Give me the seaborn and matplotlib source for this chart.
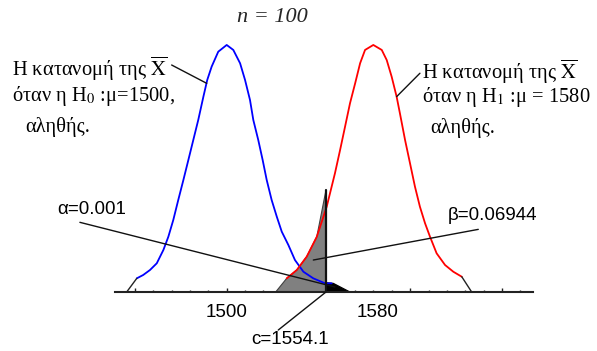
import numpy as np
import matplotlib
matplotlib.use("Agg")
import matplotlib.pyplot as plt
from matplotlib.ticker import FixedLocator
import seaborn as sns

# ---- data (x in the units of the X axis, y = density x 1000) ----
blue_x = [1451.0, 1454.5, 1458.2, 1461.9, 1465.5, 1468.2, 1470.9, 1473.6, 1476.4, 1479.1,
          1481.8, 1484.5, 1487.3, 1489.4, 1491.8, 1495.4, 1500.0, 1503.6, 1507.3, 1510.0,
          1512.7, 1514.5, 1517.2, 1519.6, 1521.8, 1524.5, 1527.3, 1530.0, 1533.6, 1537.2,
          1541.8, 1547.2, 1553.6, 1557.2]
blue_y = [1.26, 1.57, 2.03, 2.65, 3.88, 5.10, 6.65, 8.49, 10.34, 12.18,
          14.03, 15.88, 18.03, 19.57, 20.80, 22.18, 22.80, 22.34, 21.11, 19.57,
          17.72, 15.88, 14.03, 12.18, 10.34, 8.49, 6.95, 5.57, 4.34, 2.95,
          1.87, 1.26, 0.80, 0.80]

red_x = [1532.7, 1538.2, 1543.6, 1549.1, 1554.5, 1556.3, 1559.0, 1561.8, 1564.5, 1567.2,
         1570.0, 1572.7, 1575.4, 1579.9, 1584.5, 1587.2, 1589.9, 1592.6, 1594.4, 1597.2,
         1599.9, 1602.6, 1605.3, 1608.1, 1610.8, 1614.4, 1619.0, 1623.5, 1628.1]
red_y = [1.26, 2.03, 3.26, 5.10, 7.87, 9.11, 10.96, 13.11, 15.26, 17.42,
         19.26, 21.11, 22.34, 22.80, 22.34, 21.41, 19.87, 18.03, 16.49, 14.03,
         11.88, 9.72, 7.87, 6.34, 5.10, 3.57, 2.49, 1.87, 1.41]

blue_tail_x = [1445.5, 1451.0]
blue_tail_y = [0.0, 1.26]
red_tail_x = [1628.1, 1633.5]
red_tail_y = [1.41, 0.0]

c_value = 1554.1
c_top = 9.4          # top of the shaded beta region at c
beta_left = 1526.7   # where the shaded beta region starts on the axis
alpha_x = [1554.1, 1558.1, 1567.2]
alpha_y = [0.86, 0.80, 0.0]

axis_range = (1439.2, 1667.1)
major_ticks = [1450, 1500, 1550, 1600, 1650]
minor_ticks = list(range(1450, 1661, 10))
tick_labels = {1500: "1500", 1580: "1580"}

title_text = "n = 100"
h0_lines = ["Η κατανομή της $\\overline{\\mathrm{X}}$",
            "όταν η H$_0$ :μ=1500,",
            "αληθής."]
h1_lines = ["Η κατανομή της $\\overline{\\mathrm{X}}$",
            "όταν η H$_1$ :μ = 1580",
            "αληθής."]
alpha_text = "α=0.001"
beta_text = "β=0.06944"
c_text = "c=1554.1"

# ---- drawing ----
sns.set_style("white")
plt.rcParams["mathtext.fontset"] = "stix"

W, H = 597, 351
fig = plt.figure(figsize=(W / 100, H / 100), dpi=100)
ax = fig.add_axes([0, 0, 1, 1])
ax.set_xlim(1376.46, 1701.8)
ax.set_ylim(-5.446, 26.95)

# beta region (grey) under the H1 curve, left of c
gx = [beta_left] + [x for x in red_x if x < c_value] + [c_value, c_value]
gy = [0.0] + [y for x, y in zip(red_x, red_y) if x < c_value] + [c_top, 0.0]
ax.fill(gx, gy, facecolor="#808080", edgecolor="#404040", linewidth=0.8, zorder=2)
# alpha region (black) under the H0 curve, right of c
ax.fill(alpha_x + [alpha_x[0]], alpha_y + [0.0], facecolor="black", edgecolor="black",
        linewidth=0.8, zorder=2)
ax.plot([c_value, c_value], [0, c_top], color="#111111", lw=1.6, zorder=4)

sns.lineplot(x=blue_x, y=blue_y, color="#0000FF", lw=1.3, sort=False, estimator=None, ax=ax, zorder=3)
sns.lineplot(x=red_x, y=red_y, color="#FF0000", lw=1.3, sort=False, estimator=None, ax=ax, zorder=3)
sns.lineplot(x=blue_tail_x, y=blue_tail_y, color="#222222", lw=1.0, sort=False, estimator=None, ax=ax, zorder=3)
sns.lineplot(x=red_tail_x, y=red_tail_y, color="#222222", lw=1.0, sort=False, estimator=None, ax=ax, zorder=3)

# axis
for s in ["top", "right", "left"]:
    ax.spines[s].set_visible(False)
ax.spines["bottom"].set_position(("data", 0))
ax.spines["bottom"].set_bounds(*axis_range)
ax.spines["bottom"].set_linewidth(1.5)
ax.spines["bottom"].set_color("#222222")
ax.spines["bottom"].set_zorder(5)
ax.xaxis.set_major_locator(FixedLocator(major_ticks))
ax.xaxis.set_minor_locator(FixedLocator(minor_ticks))
ax.tick_params(axis="x", which="major", direction="in", length=3.2, width=1.0,
               color="#222222", labelbottom=False, bottom=True)
ax.tick_params(axis="x", which="minor", direction="in", length=1.8, width=1.0,
               color="#222222", bottom=True)
ax.set_yticks([])


def px(x, y):
    return x / W, 1 - y / H


num_font = dict(family="Liberation Sans", fontsize=13.5, color="black")
ax.text(1500, -1.85, tick_labels[1500], ha="center", va="center", **num_font)
ax.text(1582, -1.85, tick_labels[1580], ha="center", va="center", **num_font)

# title
fig.text(*px(272, 18), title_text, ha="center", va="center", family="Liberation Serif",
         style="italic", fontsize=16)

gk = dict(family="Liberation Serif", fontsize=14.8, color="black", va="center", ha="left")
for (x, y), t in zip([(12, 69), (12, 96), (25, 127)], h0_lines):
    fig.text(*px(x, y), t, **gk)
for (x, y), t in zip([(422, 72), (422, 97), (430, 128)], h1_lines):
    fig.text(*px(x, y), t, **gk)

fig.text(*px(57, 210), alpha_text, ha="left", va="center", **num_font)
fig.text(*px(448, 216), beta_text, ha="left", va="center", **num_font)
fig.text(*px(290, 340), c_text, ha="center", va="center", **num_font)

# leader lines
lead = dict(color="#111111", lw=1.0, zorder=6)
ax.plot([1470.0, 1489.1], [20.95, 19.26], **lead)          # H0 label
ax.plot([1605.3, 1592.6], [20.19, 18.03], **lead)          # H1 label
ax.plot([1420.0, 1559.0], [6.43, 0.46], **lead)            # alpha
ax.plot([1547.2, 1637.1], [2.95, 5.78], **lead)            # beta
ax.plot([c_value, 1528.1], [0.0, -3.51], **lead)           # c

fig.savefig("out.png", dpi=100)
